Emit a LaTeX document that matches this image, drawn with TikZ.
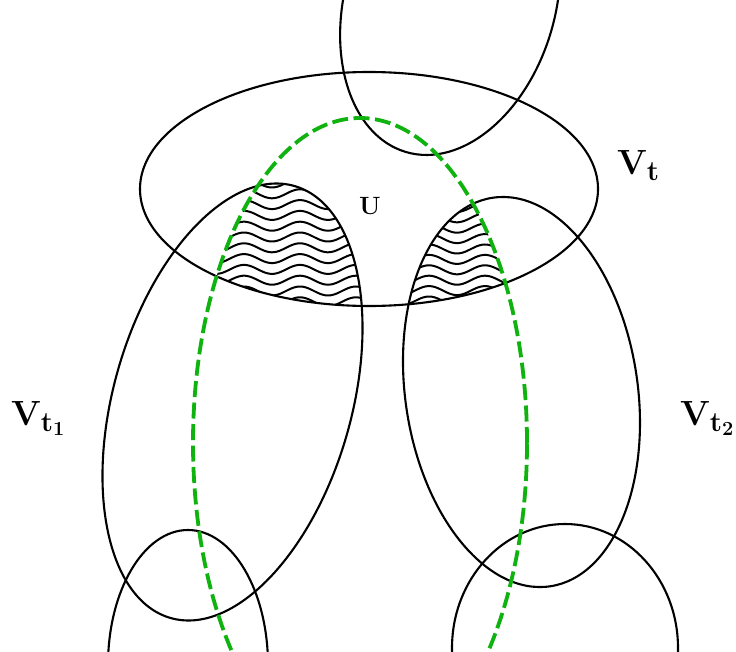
\documentclass[tikz,border=0pt]{standalone}
\definecolor{dgreen}{RGB}{16,178,16}
\tikzset{
  outline/.style={draw=black, line width=2.1pt},
  greendash/.style={draw=dgreen, line width=3.8pt, dash pattern=on 16pt off 5.5pt},
  wave/.style={draw=black, line width=2pt},
  biglab/.style={font=\fontsize{35}{40}\selectfont\bfseries, inner sep=0pt},
  smalllab/.style={font=\fontsize{25}{28}\selectfont\bfseries, inner sep=0pt}
}
\newcommand{\mysub}[1]{\raisebox{-6pt}{\fontsize{28}{30}\selectfont #1}}
\newcommand{\mysubsub}[1]{\raisebox{-4pt}{\fontsize{20}{22}\selectfont #1}}
\begin{document}
\begin{tikzpicture}[x=1pt, y=-1pt]
\clip (0,0) rectangle (736,652);
\fill[white] (0,0) rectangle (736,652);
% coordinates of centres
\coordinate (cvt) at (369,189);
\coordinate (cg) at (360,443);
\coordinate (cv1) at (232.5,402);
\coordinate (cv2) at (521.5,392);
\coordinate (ctop) at (450.2,2);
\coordinate (cbl) at (188,665);
\coordinate (cbr) at (565,648);
% hatched region left
\begin{scope}
  \clip (cvt) ellipse (229pt and 117pt);
  \clip (cg) ellipse (167pt and 325pt);
  \clip[rotate around={74:(cv1)}] (cv1) ellipse (224.7pt and 118.9pt);
  \foreach \k in {0,...,12}
    \draw[wave] plot[domain=190:380, samples=80, smooth] (\x, {183 + 10.8*\k - 4.5*cos(6.42857*(\x-300))});
\end{scope}
% hatched region right
\begin{scope}
  \clip (cvt) ellipse (229pt and 117pt);
  \clip (cg) ellipse (167pt and 325pt);
  \clip[rotate around={98.4:(cv2)}] (cv2) ellipse (196.4pt and 116.2pt);
  \foreach \k in {0,...,12}
    \draw[wave] plot[domain=390:520, samples=60, smooth] (\x, {197 + 10.4*\k + 4.5*cos(6.42857*(\x-457))});
\end{scope}
% ellipses
\draw[outline, rotate around={73.6:(ctop)}] (ctop) ellipse (156.4pt and 105.1pt);
\draw[outline] (cvt) ellipse (229pt and 117pt);
\draw[outline, rotate around={74:(cv1)}] (cv1) ellipse (224.7pt and 118.9pt);
\draw[outline, rotate around={98.4:(cv2)}] (cv2) ellipse (196.4pt and 116.2pt);
\draw[outline] (cbl) ellipse (80pt and 135pt);
\draw[outline] (cbr) ellipse (113pt and 124pt);
\draw[greendash] (cg) ellipse (167pt and 325pt);
% labels
\node[biglab, anchor=base west] (lvt) at (617,175) {V\mysub{t}};
\node[biglab, anchor=base west] (lv1) at (11,425) {V\mysub{t\mysubsub{1}}};
\node[biglab, anchor=base west] (lv2) at (680,425) {V\mysub{t\mysubsub{2}}};
\node[smalllab, anchor=base west] (lu) at (359,215) {U};
\end{tikzpicture}
\end{document}
